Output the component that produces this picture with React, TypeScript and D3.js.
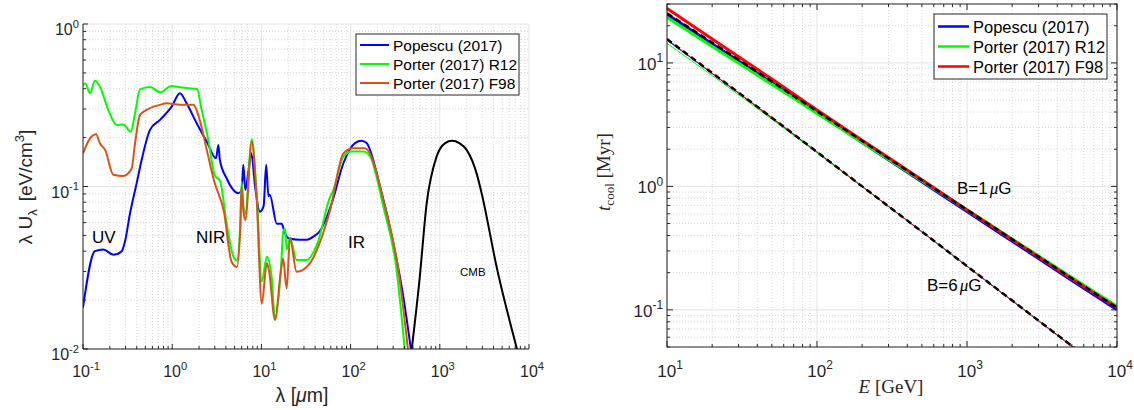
import React from 'react';
import * as d3 from 'd3';

// ---------------- Left panel data (lambda [um], lambda U_lambda [eV/cm^3]) ----------------
const popescuLambda = [0.1, 0.136, 0.169, 0.219, 0.272, 0.296, 0.336, 0.4, 0.455, 0.564, 0.73, 0.986, 1.22, 1.45, 1.88, 2.44, 3.1, 3.29, 3.42, 4.08, 5.5, 6.0, 6.27, 6.6, 7.1, 7.7, 8.5, 9.64, 10.6, 11.3, 12.0, 12.4, 14.9, 16.9, 17.9, 20, 27, 32, 40, 45, 62, 83, 112, 133, 151, 214, 301, 390, 480];
const popescuU = [0.018, 0.04, 0.041, 0.038, 0.04, 0.046, 0.068, 0.105, 0.146, 0.223, 0.257, 0.31, 0.375, 0.325, 0.245, 0.189, 0.149, 0.18, 0.146, 0.112, 0.091, 0.095, 0.136, 0.095, 0.12, 0.16, 0.1, 0.07, 0.076, 0.136, 0.087, 0.089, 0.059, 0.059, 0.054, 0.048, 0.047, 0.047, 0.05, 0.053, 0.08, 0.139, 0.185, 0.191, 0.185, 0.1, 0.045, 0.021, 0.0095];

const r12Lambda = [0.1, 0.106, 0.12, 0.136, 0.155, 0.192, 0.238, 0.283, 0.343, 0.383, 0.435, 0.564, 0.73, 0.986, 1.22, 1.73, 1.9, 2.14, 2.54, 3.0, 3.44, 4.08, 4.85, 5.3, 5.8, 6.0, 6.3, 6.6, 7.8, 8.85, 10.1, 11.5, 13.0, 14.2, 16.5, 17.6, 18.4, 19.2, 21.0, 24.8, 32, 42, 59, 64, 83, 103, 139, 165, 233, 328, 407];
const r12U = [0.42, 0.43, 0.375, 0.448, 0.41, 0.296, 0.239, 0.241, 0.217, 0.282, 0.396, 0.41, 0.38, 0.415, 0.408, 0.4, 0.397, 0.296, 0.193, 0.117, 0.108, 0.059, 0.037, 0.035, 0.06, 0.107, 0.075, 0.068, 0.195, 0.091, 0.026, 0.037, 0.028, 0.0155, 0.03, 0.053, 0.055, 0.041, 0.048, 0.0353, 0.0353, 0.044, 0.0865, 0.095, 0.153, 0.164, 0.164, 0.153, 0.075, 0.0306, 0.0095];

const f98Lambda = [0.1, 0.12, 0.14, 0.155, 0.177, 0.219, 0.283, 0.351, 0.383, 0.435, 0.516, 0.73, 0.867, 1.22, 1.73, 1.96, 2.44, 2.95, 3.8, 4.63, 5.3, 5.8, 6.0, 6.3, 6.6, 7.8, 8.85, 10.1, 11.5, 12.2, 14.2, 16.5, 17.5, 19.2, 20.9, 24.8, 35, 45, 59, 83, 107, 145, 243, 343, 444];
const f98U = [0.16, 0.198, 0.21, 0.184, 0.168, 0.118, 0.116, 0.129, 0.184, 0.275, 0.296, 0.318, 0.325, 0.318, 0.318, 0.275, 0.168, 0.108, 0.07, 0.0344, 0.032, 0.055, 0.1, 0.07, 0.062, 0.189, 0.083, 0.019, 0.0337, 0.03, 0.0151, 0.03, 0.036, 0.0236, 0.048, 0.0299, 0.0337, 0.045, 0.0717, 0.16, 0.172, 0.172, 0.075, 0.0306, 0.0095];

const cmbLambda = [483, 592, 711, 921, 1150, 1373, 1650, 2000, 2590, 2944, 4337, 7400];
const cmbU = [0.0098, 0.0266, 0.078, 0.153, 0.185, 0.191, 0.185, 0.168, 0.12, 0.091, 0.032, 0.0098];

// ---------------- Right panel data (E [GeV], t_cool [Myr]) ----------------
const energyGeV = [10, 20, 50, 100, 200, 500, 1000, 2000, 5000, 10000];
const popescuB1 = [24.8, 14.3, 6.9, 3.95, 2.27, 1.09, 0.625, 0.36, 0.173, 0.1];
const r12B1 = [23.3, 13.6, 6.7, 3.9, 2.27, 1.11, 0.645, 0.375, 0.183, 0.107];
const f98B1 = [27.6, 15.6, 7.4, 4.15, 2.36, 1.13, 0.645, 0.37, 0.178, 0.104];
const refB1 = [25.2, 14.6, 7.05, 4.05, 2.33, 1.12, 0.645, 0.372, 0.18, 0.104];
const popescuB6 = [15.3, 8.2, 3.58, 1.89, 0.995, 0.428, 0.225, 0.118, 0.0505, 0.0268];
const r12B6 = [14.4, 7.9, 3.5, 1.87, 0.99, 0.43, 0.226, 0.119, 0.051, 0.027];
const f98B6 = [15.5, 8.25, 3.6, 1.9, 1.0, 0.43, 0.226, 0.119, 0.051, 0.027];
const refB6 = [15.6, 8.3, 3.6, 1.9, 1.0, 0.43, 0.226, 0.119, 0.051, 0.027];

const legendLabels = ['Popescu (2017)', 'Porter (2017) R12', 'Porter (2017) F98'];

const SANS = "'Liberation Sans', Arial, Helvetica, sans-serif";
const SERIF = "'Liberation Serif', 'Times New Roman', serif";
const TXT = '#262626';
const BLUE = '#0000ff';
const GREEN = '#00ff00';
const ORANGE = '#d95319';
const RED = '#ff0000';

function logTicks(lo: number, hi: number) {
  const majors: number[] = [];
  const minors: number[] = [];
  const e0 = Math.floor(Math.log10(lo) - 1e-9);
  const e1 = Math.ceil(Math.log10(hi) + 1e-9);
  for (let e = e0; e <= e1; e++) {
    for (let k = 1; k <= 9; k++) {
      const v = k * Math.pow(10, e);
      if (v < lo * 0.9999 || v > hi * 1.0001) continue;
      if (k === 1) majors.push(v);
      else minors.push(v);
    }
  }
  return { majors, minors };
}

function PowLabel({ x, y, v, anchor, size }: { x: number; y: number; v: number; anchor: string; size: number }) {
  const e = Math.round(Math.log10(v));
  return (
    <text x={x} y={y} textAnchor={anchor as any} fontFamily={SANS} fontSize={size} fill={TXT}>
      <tspan>10</tspan>
      <tspan dy={-size * 0.45} fontSize={size * 0.7}>{e < 0 ? '-' + Math.abs(e) : String(e)}</tspan>
    </text>
  );
}

function LeftPanel() {
  const x0 = 83, x1 = 529, y0 = 24, y1 = 349;
  const x = d3.scaleLog().domain([0.1, 1e4]).range([x0, x1]);
  const y = d3.scaleLog().domain([0.01, 1]).range([y1, y0]);
  const xt = logTicks(0.1, 1e4);
  const yt = logTicks(0.01, 1);
  const line = d3
    .line<[number, number]>()
    .x((d) => x(d[0]))
    .y((d) => y(d[1]))
    .curve(d3.curveMonotoneX);
  const zip = (a: number[], b: number[]) => a.map((v, i) => [v, b[i]] as [number, number]);
  const series = [
    { d: zip(popescuLambda, popescuU), c: BLUE },
    { d: zip(r12Lambda, r12U), c: GREEN },
    { d: zip(f98Lambda, f98U), c: ORANGE },
    { d: zip(cmbLambda, cmbU), c: '#000000' },
  ];
  const lx = 356, ly = 34, lw = 163, lh = 61;
  return (
    <g>
      <defs>
        <clipPath id="clipL">
          <rect x={x0} y={y0} width={x1 - x0} height={y1 - y0} />
        </clipPath>
      </defs>
      {xt.minors.map((v) => (
        <line key={'xm' + v} x1={x(v)} x2={x(v)} y1={y0} y2={y1} stroke="#cccccc" strokeWidth={0.8} strokeDasharray="1,2" />
      ))}
      {yt.minors.map((v) => (
        <line key={'ym' + v} x1={x0} x2={x1} y1={y(v)} y2={y(v)} stroke="#cccccc" strokeWidth={0.8} strokeDasharray="1,2" />
      ))}
      {xt.majors.map((v) => (
        <line key={'xM' + v} x1={x(v)} x2={x(v)} y1={y0} y2={y1} stroke="#e3e3e3" strokeWidth={1} />
      ))}
      {yt.majors.map((v) => (
        <line key={'yM' + v} x1={x0} x2={x1} y1={y(v)} y2={y(v)} stroke="#e3e3e3" strokeWidth={1} />
      ))}
      <g clipPath="url(#clipL)">
        {series.map((s, i) => (
          <path key={i} d={line(s.d) || ''} fill="none" stroke={s.c} strokeWidth={2} strokeLinejoin="round" />
        ))}
      </g>
      {/* axes */}
      <line x1={x0} x2={x0} y1={y0} y2={y1} stroke={TXT} strokeWidth={1} />
      <line x1={x0} x2={x1} y1={y1} y2={y1} stroke={TXT} strokeWidth={1} />
      {xt.majors.map((v) => (
        <line key={'xtM' + v} x1={x(v)} x2={x(v)} y1={y1} y2={y1 - 5} stroke={TXT} strokeWidth={1} />
      ))}
      {xt.minors.map((v) => (
        <line key={'xtm' + v} x1={x(v)} x2={x(v)} y1={y1} y2={y1 - 3} stroke={TXT} strokeWidth={1} />
      ))}
      {yt.majors.map((v) => (
        <line key={'ytM' + v} x1={x0} x2={x0 + 5} y1={y(v)} y2={y(v)} stroke={TXT} strokeWidth={1} />
      ))}
      {yt.minors.map((v) => (
        <line key={'ytm' + v} x1={x0} x2={x0 + 3} y1={y(v)} y2={y(v)} stroke={TXT} strokeWidth={1} />
      ))}
      {xt.majors.map((v) => (
        <PowLabel key={'xl' + v} x={x(v) + 3} y={377} v={v} anchor="middle" size={16} />
      ))}
      {yt.majors.map((v) => (
        <PowLabel key={'yl' + v} x={79} y={y(v) + 11} v={v} anchor="end" size={16} />
      ))}
      {/* axis labels */}
      <text x={302} y={402} textAnchor="middle" fontFamily={SANS} fontSize={19.5} fill={TXT}>
        λ [<tspan fontStyle="italic">μ</tspan>m]
      </text>
      <text transform="translate(32,187) rotate(-90)" textAnchor="middle" fontFamily={SANS} fontSize={19} fill={TXT}>
        λ U<tspan dy={5} fontSize={13}>λ</tspan>
        <tspan dy={-5} dx={8}>[eV/cm</tspan>
        <tspan dy={-8} fontSize={13}>3</tspan>
        <tspan dy={8}>]</tspan>
      </text>
      {/* region labels */}
      <text x={92} y={243} fontFamily={SANS} fontSize={17} fill="#000">UV</text>
      <text x={196} y={243} fontFamily={SANS} fontSize={17} fill="#000">NIR</text>
      <text x={348} y={248} fontFamily={SANS} fontSize={17} fill="#000">IR</text>
      <text x={460} y={276} fontFamily={SANS} fontSize={11.5} fill="#000">CMB</text>
      {/* legend */}
      <rect x={lx} y={ly} width={lw} height={lh} fill="#ffffff" stroke={TXT} strokeWidth={1} />
      {legendLabels.map((t, i) => (
        <g key={t}>
          <line x1={lx + 4} x2={lx + 33} y1={ly + 11 + i * 19} y2={ly + 11 + i * 19} stroke={[BLUE, GREEN, ORANGE][i]} strokeWidth={2} />
          <text x={lx + 37} y={ly + 16.5 + i * 19} fontFamily={SANS} fontSize={15.5} fill="#000">{t}</text>
        </g>
      ))}
    </g>
  );
}

function RightPanel() {
  const x0 = 667, x1 = 1117, y0 = 4, y1 = 347;
  const x = d3.scaleLog().domain([10, 1e4]).range([x0, x1]);
  const y = d3.scaleLog().domain([0.05, 30]).range([y1, y0]);
  const xt = logTicks(10, 1e4);
  const yt = logTicks(0.05, 30);
  const line = d3
    .line<number>()
    .x((_, i) => x(energyGeV[i]))
    .y((d) => y(d))
    .curve(d3.curveMonotoneX);
  const lx = 934, ly = 14, lw = 173, lh = 65;
  return (
    <g>
      <defs>
        <clipPath id="clipR">
          <rect x={x0} y={y0} width={x1 - x0} height={y1 - y0} />
        </clipPath>
      </defs>
      {xt.minors.map((v) => (
        <line key={'xm' + v} x1={x(v)} x2={x(v)} y1={y0} y2={y1} stroke="#cccccc" strokeWidth={0.8} strokeDasharray="1,2" />
      ))}
      {yt.minors.map((v) => (
        <line key={'ym' + v} x1={x0} x2={x1} y1={y(v)} y2={y(v)} stroke="#cccccc" strokeWidth={0.8} strokeDasharray="1,2" />
      ))}
      {xt.majors.map((v) => (
        <line key={'xM' + v} x1={x(v)} x2={x(v)} y1={y0} y2={y1} stroke="#e3e3e3" strokeWidth={1} />
      ))}
      {yt.majors.map((v) => (
        <line key={'yM' + v} x1={x0} x2={x1} y1={y(v)} y2={y(v)} stroke="#e3e3e3" strokeWidth={1} />
      ))}
      <g clipPath="url(#clipR)">
        <path d={line(popescuB1) || ''} fill="none" stroke={BLUE} strokeWidth={3} />
        <path d={line(r12B1) || ''} fill="none" stroke={GREEN} strokeWidth={3} />
        <path d={line(f98B1) || ''} fill="none" stroke={RED} strokeWidth={3} />
        <path d={line(refB1) || ''} fill="none" stroke="#000" strokeWidth={2.5} strokeDasharray="6,4" />
        <path d={line(popescuB6) || ''} fill="none" stroke={BLUE} strokeWidth={1} />
        <path d={line(r12B6) || ''} fill="none" stroke={GREEN} strokeWidth={1} />
        <path d={line(f98B6) || ''} fill="none" stroke={RED} strokeWidth={1} />
        <path d={line(refB6) || ''} fill="none" stroke="#000" strokeWidth={2.5} strokeDasharray="6,4" />
      </g>
      <rect x={x0} y={y0} width={x1 - x0} height={y1 - y0} fill="none" stroke={TXT} strokeWidth={1} />
      {xt.majors.map((v) => (
        <g key={'xtM' + v}>
          <line x1={x(v)} x2={x(v)} y1={y1} y2={y1 - 6} stroke={TXT} />
          <line x1={x(v)} x2={x(v)} y1={y0} y2={y0 + 6} stroke={TXT} />
        </g>
      ))}
      {xt.minors.map((v) => (
        <g key={'xtm' + v}>
          <line x1={x(v)} x2={x(v)} y1={y1} y2={y1 - 3} stroke={TXT} />
          <line x1={x(v)} x2={x(v)} y1={y0} y2={y0 + 3} stroke={TXT} />
        </g>
      ))}
      {yt.majors.map((v) => (
        <g key={'ytM' + v}>
          <line x1={x0} x2={x0 + 6} y1={y(v)} y2={y(v)} stroke={TXT} />
          <line x1={x1} x2={x1 - 6} y1={y(v)} y2={y(v)} stroke={TXT} />
        </g>
      ))}
      {yt.minors.map((v) => (
        <g key={'ytm' + v}>
          <line x1={x0} x2={x0 + 3} y1={y(v)} y2={y(v)} stroke={TXT} />
          <line x1={x1} x2={x1 - 3} y1={y(v)} y2={y(v)} stroke={TXT} />
        </g>
      ))}
      {xt.majors.map((v) => (
        <PowLabel key={'xl' + v} x={x(v) + 3} y={377} v={v} anchor="middle" size={17} />
      ))}
      {yt.majors.map((v) => (
        <PowLabel key={'yl' + v} x={663} y={y(v) + 7} v={v} anchor="end" size={17} />
      ))}
      <text x={891} y={393} textAnchor="middle" fontFamily={SERIF} fontSize={19} fill={TXT}>
        <tspan fontStyle="italic">E</tspan> [GeV]
      </text>
      <text transform="translate(610,172) rotate(-90)" textAnchor="middle" fontFamily={SERIF} fontSize={19} fill={TXT}>
        <tspan fontStyle="italic">t</tspan>
        <tspan dy={4} fontSize={13}>cool</tspan>
        <tspan dy={-4}> [Myr]</tspan>
      </text>
      <text x={957} y={194} fontFamily={SANS} fontSize={17} fill="#000">
        B=1<tspan dx={2} fontStyle="italic" fontFamily={SERIF}>μ</tspan>G
      </text>
      <text x={927} y={291} fontFamily={SANS} fontSize={17} fill="#000">
        B=6<tspan dx={2} fontStyle="italic" fontFamily={SERIF}>μ</tspan>G
      </text>
      <rect x={lx} y={ly} width={lw} height={lh} fill="#ffffff" stroke={TXT} strokeWidth={1} />
      {legendLabels.map((t, i) => (
        <g key={t}>
          <line x1={lx + 4} x2={lx + 35} y1={ly + 12.5 + i * 20} y2={ly + 12.5 + i * 20} stroke={[BLUE, GREEN, RED][i]} strokeWidth={2.5} />
          <text x={lx + 39} y={ly + 18.5 + i * 20} fontFamily={SANS} fontSize={16.5} fill="#000">{t}</text>
        </g>
      ))}
    </g>
  );
}

export default function App() {
  return (
    <svg width={1134} height={410} style={{ position: 'absolute', left: 0, top: 0, background: '#fff' }}>
      <rect x={0} y={0} width={1134} height={410} fill="#ffffff" />
      <LeftPanel />
      <RightPanel />
    </svg>
  );
}
